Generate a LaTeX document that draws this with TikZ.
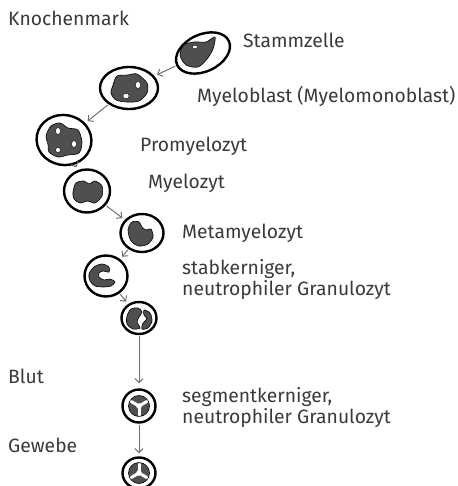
\documentclass[tikz,border=0pt]{standalone}
\usepackage{fontspec}
\setmainfont{Fira Sans}
\usetikzlibrary{shapes.geometric,arrows.meta}

\definecolor{kerngrau}{HTML}{4F4F4F}
\definecolor{pfeilgrau}{HTML}{6E6E6E}
\definecolor{textgrau}{HTML}{3A3A3A}

\tikzset{
  zelle/.style={draw, ellipse, line width=2.4pt, fill=white, inner sep=0pt},
  kern/.style={fill=kerngrau, draw=black, line width=0.6pt},
  loch/.style={fill=white, draw=black, line width=0.4pt},
  pfeil/.style={draw=pfeilgrau, line width=1pt, -{Straight Barb[length=4pt,width=8pt]},
    shorten >=3pt, shorten <=1pt},
  beschr/.style={anchor=base west, text=textgrau, align=left,
    font=\fontsize{19.3}{19}\selectfont, inner sep=0pt},
}

\begin{document}
\begin{tikzpicture}[x=1pt, y=-1pt]
  \useasboundingbox (0,0) rectangle (457,486);

  % Zellen
  \node[zelle, minimum width=57, minimum height=37, rotate=25] (stamm) at (203,53) {};
  \node[zelle, minimum width=58, minimum height=42] (myeloblast) at (129,88) {};
  \node[zelle, minimum width=55, minimum height=50, rotate=-10] (promyelozyt) at (64,140) {};
  \node[zelle, minimum width=46, minimum height=43] (myelozyt) at (87,191) {};
  \node[zelle, minimum width=43, minimum height=38] (metamyelozyt) at (142,233) {};
  \node[zelle, minimum width=43, minimum height=41] (stab) at (106,276) {};
  \node[zelle, minimum width=35, minimum height=32] (seg0) at (139,318) {};
  \node[zelle, minimum width=33, minimum height=33] (seg1) at (139,406) {};
  \node[zelle, minimum width=33, minimum height=31] (seg2) at (139,473) {};

  % Kerne
  \begin{scope}[shift={(stamm.center)}]
    \filldraw[kern] plot[smooth cycle] coordinates {(-23,2) (-19,-8) (-9,-11) (3,-11) (12,-16) (10,-4)
      (4,6) (-5,14) (-17,12)};
    \filldraw[loch] (-8,-6) ellipse (2.5 and 1.8);
  \end{scope}
  \begin{scope}[shift={(myeloblast.center)}]
    \filldraw[kern] plot[smooth cycle] coordinates {(-16,-3) (-12,-12) (-1,-13) (8,-14) (18,-5)
      (18,5) (10,13) (-2,14) (-13,12) (-18,5)};
    \filldraw[loch] (9,-3) ellipse (2.7 and 3.5);
    \filldraw[loch] (-3,8) ellipse (3.2 and 2.7);
  \end{scope}
  \begin{scope}[shift={(promyelozyt.center)}]
    \filldraw[kern] plot[smooth cycle] coordinates {(-18,-4) (-13,-14) (-4,-17) (4,-12) (14,-10)
      (18,2) (15,13) (4,15) (-6,17) (-15,12) (-16,4)};
    \filldraw[loch] (-6,-9) ellipse (2.5 and 3.5);
    \filldraw[loch] (10,4) ellipse (2.5 and 3.5);
    \filldraw[loch] (-6,10) ellipse (2.5 and 2.5);
  \end{scope}
  \begin{scope}[shift={(myelozyt.center)}]
    \filldraw[kern] plot[smooth cycle] coordinates {(-14,1) (-11,-8) (-3,-10) (2,-7) (8,-10) (15,-5)
      (15,5) (8,12) (1,10) (-7,12) (-13,8)};
  \end{scope}
  \begin{scope}[shift={(metamyelozyt.center)}]
    \filldraw[kern] plot[smooth cycle] coordinates {(-14,-3) (-10,-11) (-3,-11) (0,-6) (4,-3)
      (9,-4) (11,4) (6,11) (-3,13) (-11,8)};
  \end{scope}
  \begin{scope}[shift={(stab.center)}]
    \filldraw[kern] plot[smooth cycle] coordinates {(3,-9) (-4,-12) (-12,-9) (-17,-2) (-16,5)
      (-11,10) (-3,11) (5,10) (9,6) (4,3) (-2,4) (-7,1) (-7,-3) (-3,-5) (3,-4)};
  \end{scope}
  \begin{scope}[shift={(seg0.center)}]
    \filldraw[kern] plot[smooth cycle] coordinates {(-12,-2) (-8,-9) (-1,-10) (3,-6) (0,-1)
      (-2,4) (1,10) (-6,11) (-12,6)};
    \filldraw[kern] plot[smooth cycle] coordinates {(5,-8) (11,-5) (13,3) (9,10) (3,11) (4,5)
      (8,1) (5,-3)};
  \end{scope}
  \begin{scope}[shift={(seg1.center)}]
    \filldraw[kern] (0,0) circle (10.5);
    \foreach \w in {90,210,330}
      \draw[white, line width=3pt, line cap=round] (0,0) -- (\w:9);
    \fill[white] (0,0) circle (2.8);
  \end{scope}
  \begin{scope}[shift={(seg2.center)}]
    \filldraw[kern] (0,0) circle (10.5);
    \foreach \w in {30,150,270}
      \draw[white, line width=3pt, line cap=round] (0,0) -- (\w:9);
    \fill[white] (0,0) circle (2.8);
  \end{scope}

  % Pfeile
  \draw[pfeil] (stamm) -- (myeloblast);
  \draw[pfeil] (myeloblast) -- (promyelozyt);
  \draw[pfeil] (promyelozyt) -- (myelozyt);
  \draw[pfeil] (myelozyt) -- (metamyelozyt);
  \draw[pfeil] (metamyelozyt) -- (stab);
  \draw[pfeil] (stab) -- (seg0);
  \draw[pfeil, shorten >=5pt] (seg0) -- (seg1);
  \draw[pfeil] (seg1) -- (seg2);

  % Beschriftung
  \node[beschr] (knochenmark) at (8,26) {Knochenmark};
  \node[beschr] (blut) at (8,383) {Blut};
  \node[beschr] (gewebe) at (8,452) {Gewebe};
  \node[beschr] (l-stamm) at (243,48) {Stammzelle};
  \node[beschr] (l-myeloblast) at (197,103) {Myeloblast (Myelomonoblast)};
  \node[beschr] (l-promyelozyt) at (140,152) {Promyelozyt};
  \node[beschr] (l-myelozyt) at (148,188) {Myelozyt};
  \node[beschr] (l-metamyelozyt) at (182,238) {Metamyelozyt};
  \node[beschr] (l-stab) at (182,295) {stabkerniger,\\neutrophiler Granulozyt};
  \node[beschr] (l-seg) at (182,423) {segmentkerniger,\\neutrophiler Granulozyt};
\end{tikzpicture}
\end{document}
